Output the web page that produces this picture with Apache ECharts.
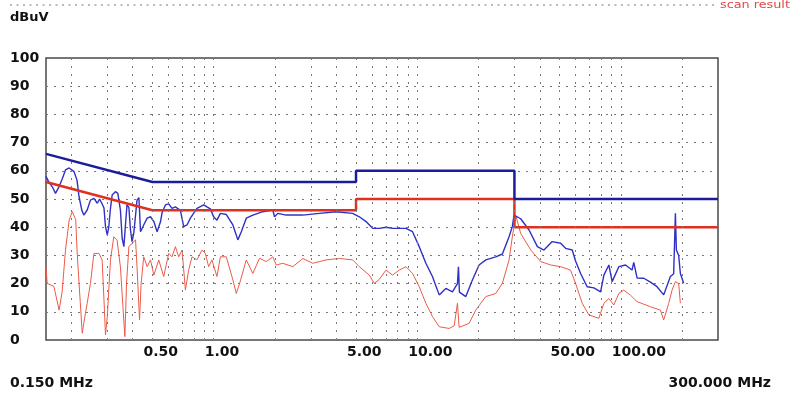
<!DOCTYPE html>
<html><head><meta charset="utf-8">
<script src="https://cdn.jsdelivr.net/npm/echarts@6/dist/echarts.min.js"></script>
<style>html,body{margin:0;padding:0;background:#fff}#c{width:800px;height:398px}</style>
</head><body><div id="c"></div><script>
// Frequencies in MHz, levels in dBuV
const peakFreq = [0.150,0.155,0.162,0.167,0.174,0.180,0.187,0.195,0.206,0.213,0.218,0.225,0.230,0.239,0.248,0.258,0.268,0.275,0.282,0.289,0.294,0.300,0.305,0.311,0.317,0.329,0.338,0.348,0.355,0.362,0.369,0.375,0.383,0.390,0.397,0.405,0.420,0.429,0.437,0.453,0.471,0.489,0.508,0.527,0.548,0.557,0.579,0.601,0.624,0.648,0.686,0.712,0.739,0.768,0.827,0.893,0.926,0.963,0.999,1.037,1.078,1.153,1.242,1.314,1.366,1.445,1.557,1.743,1.951,1.989,2.064,2.269,2.738,3.305,3.992,4.813,5.191,5.600,6.033,6.508,7.018,7.562,8.154,8.795,9.476,10.22,11.02,11.87,12.81,13.81,14.88,15.75,15.93,16.10,17.31,18.65,20.12,21.70,24.29,26.18,28.23,29.30,29.86,32.2,35.4,38.9,41.9,46.0,50.6,53.5,57.7,59.9,63.4,68.3,73.7,79.5,82.5,87.3,90.6,97.7,105.4,113.5,115.7,120.1,129.6,139.7,150.5,162.3,175.1,181.7,185.3,187.4,192.3,196.0,203.5];
const peakLevel = [58,56,54,52,54.4,57,60.3,61,59.7,56.7,50.8,46,44.3,46.1,49.6,50.2,48.5,50,48.5,46.8,40.2,37.2,40,46.7,51.4,52.6,52,46.1,36,33.1,41.4,47.9,47,39,34.9,38,49.6,50.5,38.4,40.8,43.2,43.7,42,38.4,42,45,47.9,48.3,46.7,47.2,46,40.2,40.8,43.2,46.7,47.9,47.2,46.5,43.7,42.5,44.9,44.5,40.8,35.5,38.4,43.2,44.3,45.5,46.1,43.7,44.9,44.3,44.3,44.9,45.5,44.9,43.7,42,39.6,39.6,40,39.6,39.6,39.6,38.4,33.1,27.2,22.5,16,18.3,17.1,20,26,17,15.4,21.3,26.6,28.4,29.5,30.5,36.6,40.2,44.3,43,39,33.1,31.9,34.9,34.3,32.5,31.9,28,23.6,18.9,18.5,17.1,23,26.6,20.7,26,26.6,24.8,27.5,22,21.9,20.5,18.9,16,22.5,23.5,44.9,31.9,30,23.6,20.1];

const avgFreq = [0.150,0.152,0.164,0.174,0.180,0.187,0.195,0.202,0.210,0.213,0.218,0.226,0.230,0.239,0.248,0.258,0.273,0.283,0.289,0.294,0.300,0.311,0.323,0.335,0.348,0.359,0.366,0.373,0.383,0.397,0.413,0.420,0.432,0.440,0.453,0.471,0.489,0.508,0.537,0.568,0.601,0.624,0.648,0.673,0.699,0.726,0.753,0.782,0.827,0.876,0.910,0.944,0.980,1.037,1.078,1.153,1.242,1.291,1.339,1.445,1.557,1.679,1.811,1.951,2.028,2.184,2.447,2.738,3.065,3.565,4.143,4.813,5.191,5.811,6.150,6.508,7.018,7.562,8.154,8.795,9.476,10.22,11.02,11.87,12.81,14.34,15.17,15.75,16.05,17.97,19.38,21.70,24.29,26.18,28.23,29.30,29.86,30.5,32.2,36.1,40.4,45.2,50.6,56.6,59.9,64.6,69.6,77.9,82.5,87.3,92.3,97.7,103.3,111.5,120.1,139.7,156.4,162.3,171.8,178.4,185.3,192.3,196.0];
const avgLevel = [26,20.1,19,10.6,17,31.9,42.6,45.5,42.6,31.9,20.1,2.4,5.9,13,20.1,30.7,30.7,28.4,14.2,1.8,8.3,28.4,36.6,35.5,26,10.6,1.2,20.1,33.1,34.3,35.5,26,7.1,20.1,29.5,26,28.4,23,28.4,22.5,30.7,29.5,33.1,29.5,31.9,17.7,24.8,29.5,28.4,31.9,30.7,26,28.4,22.5,29.5,29.5,21.3,16.5,20,28.4,23.6,29,27.8,29.5,26.6,27.2,26,28.9,27.2,28.4,28.9,28.4,26,23,20.1,21.5,24.8,23,24.8,26,23.6,18.9,13,8.3,4.7,4.1,5,13,4.5,5.9,10.6,15.4,16.5,20.1,28.4,36.6,40.2,44,37.8,31.9,27.8,26.6,26,24.8,20.1,13,8.9,7.7,13,14.7,12.4,16.5,17.7,15.9,13.6,11.8,10.6,7.1,13,17.7,20.7,20,13];

const qpLimitFreq = [0.15,0.5,5,5,30,30,300];
const qpLimitLevel = [66,56,56,60,60,50,50];
const avLimitFreq = [0.15,0.5,5,5,30,30,300];
const avLimitLevel = [56,46,46,50,50,40,40];

const gridFreqs = [0.2,0.3,0.4,0.5,0.6,0.7,0.8,0.9,1,2,3,4,5,6,7,8,9,10,20,30,40,50,60,70,80,90,100,200];
const tickFreqs = [0.5,1,5,10,50,100];
const tickLabels = ['0.50','1.00','5.00','10.00','50.00','100.00'];

const pairs = (f, v) => f.map((x, i) => [x, v[i]]);
const FONT = '"DejaVu Sans", sans-serif';

const chart = echarts.init(document.getElementById('c'), null, {renderer: 'canvas'});
chart.setOption({
  animation: false,
  grid: {left: 46, right: 82, top: 58, bottom: 58, show: true, borderColor: '#4a4a4a', borderWidth: 1.5, backgroundColor: 'transparent'},
  xAxis: {type: 'log', logBase: 10, min: 0.15, max: 300,
    axisLine: {show: false}, axisTick: {show: false}, axisLabel: {show: false}, splitLine: {show: false}},
  yAxis: {type: 'value', min: 0, max: 100, interval: 10,
    axisLine: {show: false}, axisTick: {show: false},
    axisLabel: {align: 'left', margin: 36, fontWeight: 'bold', fontSize: 14, color: '#111', fontFamily: FONT, padding: [6, 0, 0, 0]},
    splitLine: {show: true, showMinLine: false, showMaxLine: false, lineStyle: {type: [2, 6], color: '#777', width: 1}}},
  series: [
    {type: 'line', data: [[0.15, 0], [300, 0]], symbol: 'none', lineStyle: {opacity: 0}, silent: true, z: 1,
      markLine: {silent: true, symbol: 'none', label: {show: false}, animation: false,
        lineStyle: {type: [2, 6], color: '#777', width: 1},
        data: gridFreqs.map(f => ({xAxis: f}))}},
    {name: 'AV', type: 'line', data: pairs(avgFreq, avgLevel), symbol: 'none', z: 2,
      lineStyle: {color: '#ec5a48', width: 1}},
    {name: 'Peak', type: 'line', data: pairs(peakFreq, peakLevel), symbol: 'none', z: 3,
      lineStyle: {color: '#3030c4', width: 1.4}},
    {name: 'AV limit', type: 'line', data: pairs(avLimitFreq, avLimitLevel), symbol: 'none', z: 4,
      lineStyle: {color: '#e0301e', width: 2.5}},
    {name: 'QP limit', type: 'line', data: pairs(qpLimitFreq, qpLimitLevel), symbol: 'none', z: 5,
      lineStyle: {color: '#1c1c9a', width: 2.5}}
  ]
});

const bottomY = chart.convertToPixel({yAxisIndex: 0}, 0);
const graphics = tickFreqs.map((f, i) => ({
  type: 'text', left: chart.convertToPixel({xAxisIndex: 0}, f) - 9, top: bottomY + 5,
  style: {text: tickLabels[i], font: 'bold 14px ' + FONT, fill: '#111'}
}));
graphics.push(
  {type: 'text', left: 10, top: 376, style: {text: '0.150 MHz', font: 'bold 14px ' + FONT, fill: '#111'}},
  {type: 'text', right: 29, top: 376, style: {text: '300.000 MHz', font: 'bold 14px ' + FONT, fill: '#111'}},
  {type: 'text', left: 10, top: 11, style: {text: 'dBuV', font: 'bold 13px ' + FONT, fill: '#111'}},
  {type: 'line', shape: {x1: 10, y1: 5, x2: 714, y2: 5}, style: {stroke: '#777', lineWidth: 1.2, lineDash: [2, 4.5]}},
  {type: 'text', x: 720, y: 0, scaleX: 1.28, style: {text: 'scan result', font: '10px ' + FONT, fill: '#e04848'}}
);
chart.setOption({graphic: graphics});
</script></body></html>
